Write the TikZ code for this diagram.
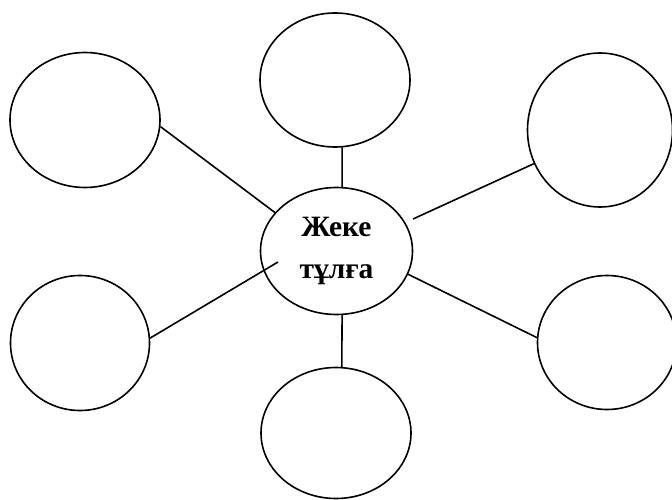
\documentclass[tikz,border=0pt]{standalone}
\usepackage{fontspec}
\setmainfont{Liberation Serif}
\usetikzlibrary{shapes.geometric,calc}
\begin{document}
\begin{tikzpicture}[x=1pt,y=-1pt,
  bubble/.style={draw=black,line width=1.6pt,ellipse,inner sep=0pt},
  link/.style={draw=black,line width=1.6pt}]
\useasboundingbox (0,0) rectangle (672,500);
\node[bubble,minimum width=150pt,minimum height=135pt] (tl) at (85,120) {};
\node[bubble,minimum width=150pt,minimum height=134pt] (t) at (335,80) {};
\node[bubble,minimum width=145pt,minimum height=154pt] (tr) at (600,130) {};
\node[bubble,minimum width=139pt,minimum height=135pt] (bl) at (80,343) {};
\node[bubble,minimum width=150pt,minimum height=131pt] (b) at (336,433) {};
\node[bubble,minimum width=139pt,minimum height=134pt] (br) at (607,342.5) {};
\node[bubble,minimum width=152pt,minimum height=127pt,align=center,
      font=\fontsize{29.5}{42}\selectfont\bfseries] (c) at (336.5,251) {Жеке\\тұлға};
\coordinate (c3) at (413,219);
\coordinate (c4) at (278,262);
\draw[link] (tl.-5) -- (c.148);
\draw[link] (t.-84) -- (c.85);
\draw[link] (tr.207) -- (c3);
\draw[link] (bl.4) -- (c4);
\draw[link] (b.85) -- (c.-85);
\draw[link] (br.176) -- (c.-18);
\end{tikzpicture}
\end{document}
